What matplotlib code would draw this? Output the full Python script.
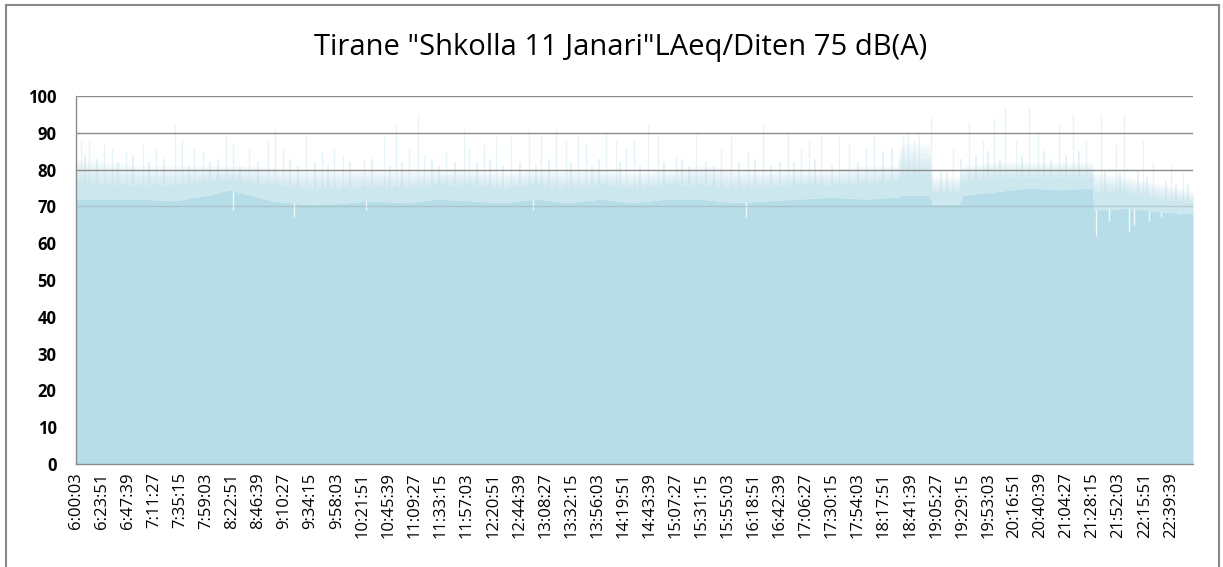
import numpy as np
import matplotlib
matplotlib.use("Agg")
import matplotlib.pyplot as plt
from matplotlib.patches import Rectangle

# --- data --------------------------------------------------------------------
title = 'Tirane "Shkolla 11 Janari"LAeq/Diten 75 dB(A)'
start = "6:00:03"
end = "22:59:59"

tick_labels = [
    "6:00:03", "6:23:51", "6:47:39", "7:11:27", "7:35:15", "7:59:03", "8:22:51",
    "8:46:39", "9:10:27", "9:34:15", "9:58:03", "10:21:51", "10:45:39", "11:09:27",
    "11:33:15", "11:57:03", "12:20:51", "12:44:39", "13:08:27", "13:32:15",
    "13:56:03", "14:19:51", "14:43:39", "15:07:27", "15:31:15", "15:55:03",
    "16:18:51", "16:42:39", "17:06:27", "17:30:15", "17:54:03", "18:17:51",
    "18:41:39", "19:05:27", "19:29:15", "19:53:03", "20:16:51", "20:40:39",
    "21:04:27", "21:28:15", "21:52:03", "22:15:51", "22:39:39",
]

# envelope of the dense per-second LAeq bars (dB)
env_time = ["6:00:03", "6:30", "7:00", "7:30", "8:00", "8:20", "8:40", "9:00",
            "9:30", "10:00", "10:30", "11:00", "11:30", "12:00", "12:30", "13:00",
            "13:30", "14:00", "14:30", "15:00", "15:30", "16:00", "16:30", "17:00",
            "17:30", "18:00", "18:30", "18:33", "18:59", "19:02", "19:26", "19:30",
            "20:00", "20:30", "21:00", "21:28", "21:29:30", "22:00", "22:30", "22:59:59"]
env_base = [72, 72, 72, 71.5, 73, 74.5, 73, 71.5, 70.5, 70.8, 71.5, 71, 72, 71.5,
            71, 72, 71, 72, 71, 72, 72, 71, 71.5, 72, 72.5, 72, 72.5, 73, 73, 70.5,
            70.5, 73, 74, 75, 74.5, 75, 69, 69.5, 68.5, 68]
env_mid = [77, 76, 76, 76, 77, 77.5, 76.5, 76, 75, 75, 75.5, 75, 76, 76, 75, 76, 75,
           76, 75, 76, 76, 75, 75.5, 76, 76, 76.5, 77, 79, 79, 74, 74, 77, 78, 78,
           78, 78, 74, 74, 72, 71]
env_top = [83, 82, 81, 81, 81, 81, 81, 80.5, 80, 80, 80, 80, 80, 80, 79, 80, 80, 80,
           79, 80, 81, 80, 79.5, 80, 80, 81, 81, 87, 87, 78, 78, 81, 82, 82, 82, 82,
           79, 78, 76, 74]

# isolated peaks: minutes after 6:00:03 and level (dB)
spike_min = [4.6, 12, 26, 33, 46, 61, 73, 90, 97, 108, 116, 137, 143, 158, 175, 182,
             189, 210, 225, 236, 244, 263.3, 281.6, 292.2, 304.4, 312, 318.1, 337.9,
             354.6, 359.2, 372.9, 383.5, 397.2, 414, 424.6, 438.3, 447.5, 458.1,
             465.7, 484, 493.1, 502.3, 509.9, 522.1, 531.2, 547.9, 566.2, 589, 598.2,
             613.4, 627.1, 649.9, 662.1, 669.7, 680.3, 697.1, 706.2, 721.4, 729,
             754.9, 759.5, 765.6, 770, 780.7, 800.5, 815.7, 827.9, 838.5, 848.6,
             858.3, 870.5, 878.1, 897.9, 910.1, 922.2, 935.9, 949.6, 957.3, 974,
             983.1, 999.9, 1010.5]
spike_db = [88, 88, 87, 86, 85, 87, 86, 92, 88, 86, 85, 89, 87, 86, 88, 91, 86, 89,
            85, 86, 84, 83, 89, 92, 86, 95, 84, 85, 91, 86, 87, 89, 89, 91, 89, 91,
            88, 89, 87, 90, 88, 86, 88, 92, 89, 84, 90, 86, 89, 85, 92, 90, 86, 88,
            89, 89, 87, 86, 89, 89, 90, 88, 90, 94, 86, 93, 88, 94, 97, 88, 97, 90,
            92, 95, 88, 95, 87, 95, 88, 82, 81, 79]

# smaller peaks in the ragged top band
minor_min = [8, 19, 38, 52, 67, 80, 103, 122, 130, 150, 166, 195, 203, 218, 230,
             250, 270, 287, 298, 325, 331, 346, 366, 378, 390, 405, 420, 432, 452,
             471, 478, 497, 515, 537, 553, 560, 575, 583, 605, 620, 635, 643, 656,
             675, 690, 714, 737, 745, 790, 795, 808, 822, 833, 844, 864, 884, 890,
             904, 916, 940, 953, 970, 978, 995, 1004, 1015]
minor_db = [84, 83, 82, 84, 82, 83, 81, 82, 83, 81, 82, 83, 81, 82, 81, 82, 83, 81,
            82, 83, 81, 82, 82, 83, 81, 82, 81, 83, 82, 81, 83, 82, 81, 82, 83, 81,
            82, 81, 82, 83, 81, 82, 82, 83, 81, 82, 85, 86, 80, 79, 83, 84, 85, 83,
            84, 85, 83, 84, 85, 80, 79, 80, 78, 77, 76, 76]

# short drops below the running level: minutes after 6:00:03 and level (dB)
dip_min = [143, 199.4, 264.8, 417, 611.9, 931.3, 943.5, 961.8, 966.4, 980.1, 990.7,
           1007.5]
dip_db = [69, 67, 69, 69, 67, 62, 66, 63, 65, 66, 67, 68]


def secs(t):
    p = [int(v) for v in t.split(":")]
    if len(p) == 2:
        p.append(0)
    return p[0] * 3600 + p[1] * 60 + p[2]


t0 = secs(start)
t_end = secs(end) - t0
ex = np.array([secs(t) - t0 for t in env_time], dtype=float)
base = np.array(env_base)
mid = np.array(env_mid)
top = np.array(env_top)
sx = np.array(spike_min) * 60
mx = np.array(minor_min) * 60
dx = np.array(dip_min) * 60
tick_pos = [secs(t) - t0 for t in tick_labels]

color = "#b7dde8"
grid_c = "#8c8c8c"

fig = plt.figure(figsize=(12.23, 5.67), dpi=100)
ax = fig.add_axes([76 / 1223, 1 - 464 / 567, (1193 - 76) / 1223, (464 - 96) / 567])

# gridlines hidden behind the bars
for g in range(10, 70, 10):
    ax.axhline(g, color=grid_c, lw=1, zorder=0)

ax.fill_between(ex, 0, base, color=color, lw=0, zorder=1)
ax.fill_between(ex, base, mid, color=color, alpha=0.7, lw=0, zorder=1)
n = 6
for k in range(1, n + 1):
    ax.fill_between(ex, mid, mid + (top - mid) * k / n, color=color, alpha=0.12,
                    lw=0, zorder=1)

base_at = np.interp(dx, ex, base)
ax.vlines(dx, dip_db, base_at, color="white", lw=1.0, alpha=0.8, zorder=2)
mid_at = np.interp(sx, ex, mid)
ax.vlines(sx, mid_at, spike_db, color=color, lw=1.0, alpha=0.32, zorder=2)
mmid_at = np.interp(mx, ex, mid)
ax.vlines(mx, mmid_at, minor_db, color=color, lw=1.5, alpha=0.35, zorder=2)

ax.axhline(70, color=grid_c, lw=1, alpha=0.3, zorder=3)
for g in (80, 90, 100):
    ax.axhline(g, color=grid_c, lw=1, zorder=3)

ax.set_xlim(0, t_end)
ax.set_ylim(0, 100)
ax.set_yticks(range(0, 101, 10))
ax.set_xticks(tick_pos)
ax.set_xticklabels(tick_labels, rotation=90, fontsize=12, family="Open Sans")
for lab in ax.get_yticklabels():
    lab.set_fontweight("bold")
    lab.set_fontsize(12)
    lab.set_family("Open Sans")
ax.tick_params(axis="both", length=0)
ax.tick_params(axis="y", pad=14)
ax.tick_params(axis="x", pad=6)
for s in ("top", "right"):
    ax.spines[s].set_visible(False)
for s in ("left", "bottom"):
    ax.spines[s].set_color(grid_c)
    ax.spines[s].set_linewidth(1)

fig.text(621 / 1223, 1 - 48 / 567, title, ha="center", va="center", fontsize=21,
         family="Open Sans")

fig.patches.append(Rectangle((6 / 1223, -0.02), 1213 / 1223, 1 - 5 / 567 + 0.02,
                             transform=fig.transFigure, fill=False,
                             edgecolor="#8a8a8a", lw=1.5))

fig.savefig("out.png", dpi=100)
